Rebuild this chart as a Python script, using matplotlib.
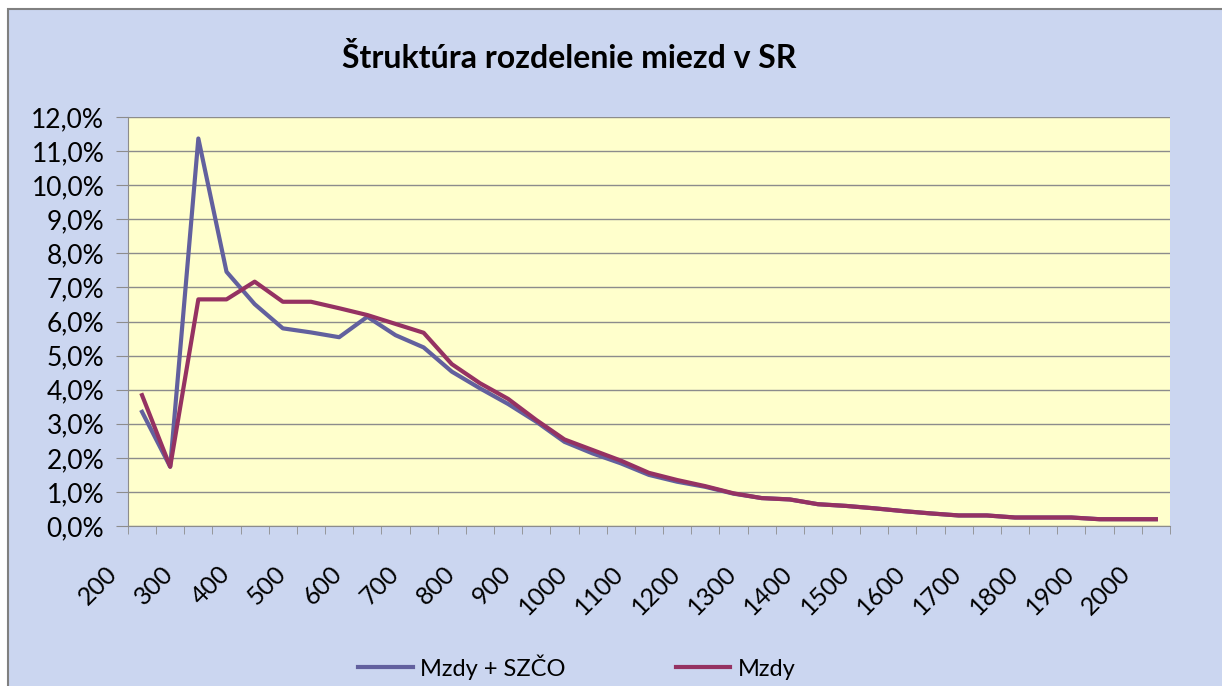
import numpy as np
from matplotlib import pyplot as plt
from matplotlib.patches import Rectangle
from matplotlib.ticker import FuncFormatter
from matplotlib.transforms import ScaledTranslation

# wage brackets (EUR), step 50
categories = list(range(200, 2001, 50))

mzdy_szco = [3.35, 1.74, 11.37, 7.46, 6.51, 5.80, 5.68, 5.54, 6.14, 5.60,
             5.24, 4.53, 4.04, 3.58, 3.06, 2.47, 2.13, 1.84, 1.50, 1.30,
             1.15, 0.95, 0.82, 0.78, 0.64, 0.59, 0.52, 0.44, 0.37, 0.31,
             0.31, 0.25, 0.25, 0.25, 0.20, 0.20, 0.20]
mzdy = [3.84, 1.74, 6.65, 6.65, 7.17, 6.58, 6.58, 6.39, 6.19, 5.93,
        5.67, 4.75, 4.19, 3.73, 3.11, 2.54, 2.23, 1.92, 1.56, 1.35,
        1.17, 0.96, 0.82, 0.78, 0.64, 0.59, 0.52, 0.44, 0.37, 0.31,
        0.31, 0.25, 0.25, 0.25, 0.20, 0.20, 0.20]

title = "Štruktúra rozdelenie miezd v SR"
labels = ["Mzdy + SZČO", "Mzdy"]

plt.rcParams['font.family'] = ['Lato', 'DejaVu Sans']

fig = plt.figure(figsize=(12.22, 6.86), dpi=100)
fig.patch.set_facecolor('white')
# chart area: starts a few pixels in from the left/top, runs off the right/bottom
fig.patches.append(Rectangle((8 / 1222, -0.01), 1.02, 1 - 9 / 686 + 0.01,
                             transform=fig.transFigure, facecolor='#cbd6f0',
                             edgecolor='#808080', linewidth=1.5, zorder=-5))

ax = fig.add_axes([0.1047, 0.2332, 0.8527, 0.5962])
ax.set_facecolor('#ffffcc')

x = np.arange(len(categories))
ax.plot(x, mzdy_szco, color='#62609e', linewidth=3.0, label=labels[0], zorder=3)
ax.plot(x, mzdy, color='#953262', linewidth=3.0, label=labels[1], zorder=4)

ax.set_xlim(-0.5, len(categories) - 0.5)
ax.set_ylim(0, 12)
ax.set_yticks(np.arange(0, 12.1, 1))
ax.yaxis.set_major_formatter(FuncFormatter(lambda v, p: f"{v:.1f}%".replace('.', ',')))
ax.grid(axis='y', color='#8c8c8c', linewidth=1.0)
ax.set_axisbelow(True)

ax.set_xticks(x[::2])
ax.set_xticklabels([str(c) for c in categories[::2]], rotation=45, ha='right',
                   rotation_mode='anchor')
ax.set_xticks(np.arange(-0.5, len(categories), 1), minor=True)
ax.tick_params(axis='x', which='major', length=0, pad=22, labelsize=18)
ax.tick_params(axis='x', which='minor', length=6, color='#8c8c8c', direction='out')
ax.tick_params(axis='y', length=9, color='#8c8c8c', pad=8, labelsize=19)

shift = ScaledTranslation(-0.37, -0.05, fig.dpi_scale_trans)
for lbl in ax.get_xticklabels():
    lbl.set_transform(lbl.get_transform() + shift)

for s in ['top', 'right']:
    ax.spines[s].set_visible(False)
for s in ['left', 'bottom']:
    ax.spines[s].set_color('#8c8c8c')

fig.text(0.466, 0.915, title, ha='center', va='center', fontsize=23, fontweight='bold')

fig.legend(loc='center', bbox_to_anchor=(0.472, 0.028), ncol=2, frameon=False,
           fontsize=17, columnspacing=4.7, handlelength=2.3, handletextpad=0.3)

fig.savefig('out.png', dpi=100, facecolor=fig.get_facecolor())
